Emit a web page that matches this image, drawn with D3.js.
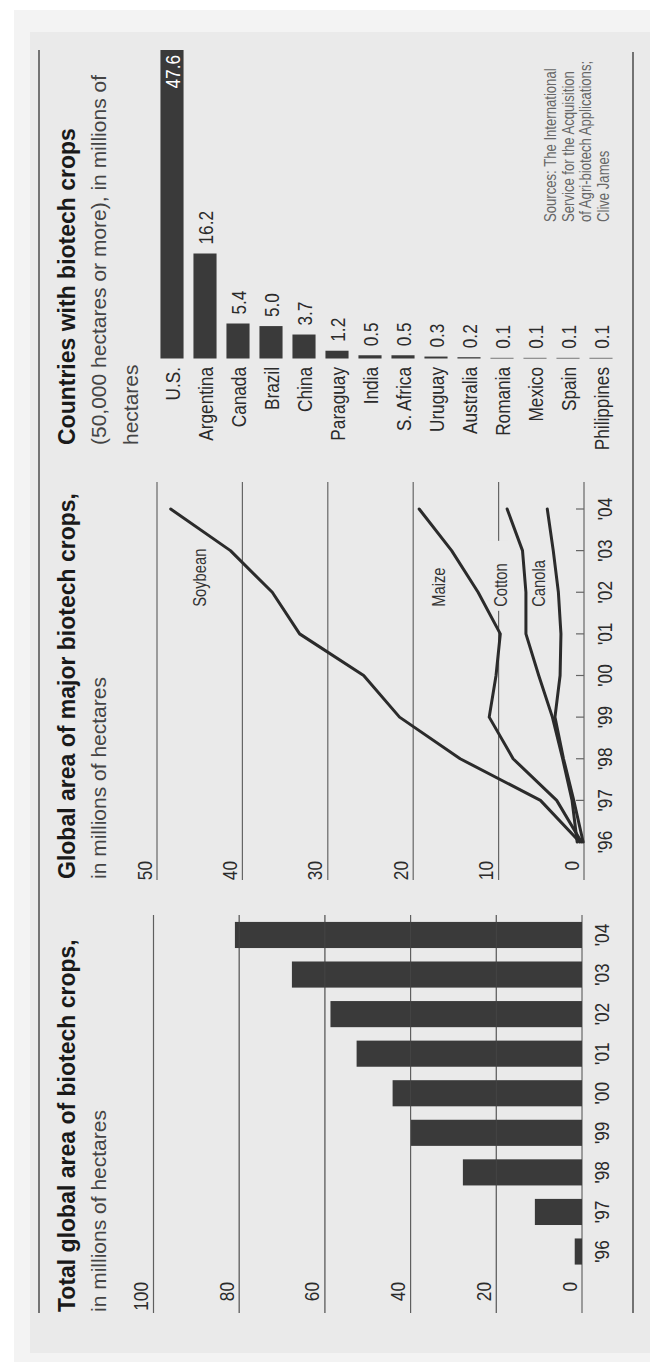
<!DOCTYPE html>
<html>
<head>
<meta charset="utf-8">
<script src="https://cdn.jsdelivr.net/npm/d3@7/dist/d3.min.js"></script>
<style>
  html, body { margin: 0; padding: 0; background: #ffffff; }
  svg { display: block; }
</style>
</head>
<body>
<div id="chart"></div>
<script>
// ---------------- DATA ----------------
const years = ["'96", "'97", "'98", "'99", "'00", "'01", "'02", "'03", "'04"];

// Total global area of biotech crops (millions of hectares)
const totalArea = [1.7, 11.0, 27.8, 39.9, 44.2, 52.6, 58.7, 67.7, 81.0];
const totalTicks = [0, 20, 40, 60, 80, 100];

// Global area of major biotech crops (millions of hectares)
const cropNames = ["Soybean", "Maize", "Cotton", "Canola"];
const soybean = [0.5, 5.1, 14.5, 21.6, 25.8, 33.3, 36.5, 41.4, 48.4];
const maize   = [0.3, 3.2, 8.3, 11.1, 10.3, 9.8, 12.4, 15.5, 19.3];
const cotton  = [0.8, 1.4, 2.5, 3.7, 5.3, 6.8, 6.8, 7.2, 9.0];
const canola  = [0.1, 1.2, 2.4, 3.4, 2.8, 2.7, 3.0, 3.6, 4.3];
const cropTicks = [0, 10, 20, 30, 40, 50];

// Countries with biotech crops (millions of hectares)
const countries = ["U.S.", "Argentina", "Canada", "Brazil", "China", "Paraguay", "India",
  "S. Africa", "Uruguay", "Australia", "Romania", "Mexico", "Spain", "Philippines"];
const countryArea = [47.6, 16.2, 5.4, 5.0, 3.7, 1.2, 0.5, 0.5, 0.3, 0.2, 0.1, 0.1, 0.1, 0.1];

// Texts
const titles = {
  total: "Total global area of biotech crops,",
  crops: "Global area of major biotech crops,",
  countries: "Countries with biotech crops"
};
const subtitleMillions = "in millions of hectares";
const countriesSubtitle = ["(50,000 hectares or more), in millions of", "hectares"];
const sources = ["Sources: The  International", "Service for the Acquisition",
  "of Agri-biotech Applications;", "Clive James"];

// ---------------- SETUP ----------------
const W = 650, H = 1362;
const svg = d3.select("#chart").append("svg").attr("width", W).attr("height", H);

// font detection for condensed face
function hasFont(name) {
  const t = svg.append("text").attr("x", 0).attr("y", -100)
    .style("font-size", "40px").text("Argentina Mmm 0123");
  t.style("font-family", `'${name}', monospace`);
  const w1 = t.node().getComputedTextLength();
  t.style("font-family", "monospace");
  const w2 = t.node().getComputedTextLength();
  t.remove();
  return Math.abs(w1 - w2) > 1;
}
let narrowFamily = "'Liberation Sans', Arial, sans-serif", narrowScale = 0.82;
if (hasFont("Liberation Sans Narrow")) { narrowFamily = "'Liberation Sans Narrow', sans-serif"; narrowScale = 1; }
const wideFamily = "'Liberation Sans', Arial, Helvetica, sans-serif";

// background (page coordinates)
svg.append("rect").attr("x", 14).attr("y", 10).attr("width", W - 14).attr("height", H - 10).attr("fill", "#f3f3f3");
svg.append("rect").attr("x", 30).attr("y", 32).attr("width", W - 30).attr("height", 1321).attr("fill", "#eaeaea");
const BG = "#eaeaea";

// landscape group: rotated -90deg
const g = svg.append("g").attr("transform", `translate(0,${H}) rotate(-90)`);

const INK = "#2b2b2b", GRID = "#666", BAR = "#3a3a3a";

function ntext(parent, x, y, str, size, anchor, fill) {
  return parent.append("text")
    .attr("transform", `translate(${x},${y}) scale(${narrowScale},1)`)
    .attr("text-anchor", anchor || "start")
    .style("font-family", narrowFamily)
    .style("font-size", size + "px")
    .attr("fill", fill || INK)
    .text(str);
}
function wtext(parent, x, y, str, size, weight, fill) {
  return parent.append("text").attr("x", x).attr("y", y)
    .style("font-family", wideFamily).style("font-size", size + "px")
    .style("font-weight", weight).attr("fill", fill).text(str);
}

// frame rules
g.append("line").attr("x1", 49).attr("x2", 1312).attr("y1", 39).attr("y2", 39)
  .attr("stroke", "#555").attr("stroke-width", 1.6);
g.append("line").attr("x1", 49).attr("x2", 1310).attr("y1", 633).attr("y2", 633)
  .attr("stroke", "#555").attr("stroke-width", 1.6);

const TITLE_Y = 75, SUB_Y = 106, TITLE_SIZE = 23, SUB_SIZE = 21;

// ---------------- PANEL 1: total bars ----------------
{
  const p = g.append("g");
  const x0 = 49, x1 = 447;
  const x = d3.scaleBand().domain(years).range([90.7, 446.8]).paddingInner(0.34).paddingOuter(0.17);
  const y = d3.scaleLinear().domain([0, 100]).range([582, 153.5]);

  wtext(p, 50, TITLE_Y, titles.total, TITLE_SIZE, "bold", "#1a1a1a");
  wtext(p, 50, SUB_Y, subtitleMillions, SUB_SIZE, "normal", "#444");

  p.selectAll(".grid").data(totalTicks).join("line")
    .attr("x1", x0).attr("x2", x1).attr("y1", d => y(d)).attr("y2", d => y(d))
    .attr("stroke", GRID).attr("stroke-width", 1.2);
  totalTicks.forEach(t => ntext(p, 80, y(t) - 5.5, String(t), 21, "end"));

  p.selectAll(".bar").data(totalArea).join("rect")
    .attr("x", (d, i) => x(years[i])).attr("width", x.bandwidth())
    .attr("y", d => y(d)).attr("height", d => y(0) - y(d))
    .attr("fill", BAR);
  // faint gridlines showing through bars
  p.selectAll(".grid2").data(totalTicks.filter(t => t > 0)).join("line")
    .attr("x1", x0).attr("x2", x1).attr("y1", d => y(d)).attr("y2", d => y(d))
    .attr("stroke", "#555").attr("stroke-width", 0.8).attr("opacity", 0.5);
  years.forEach(yr => ntext(p, x(yr) + x.bandwidth() / 2, 609, yr, 21, "middle"));
}

// ---------------- PANEL 2: crop lines ----------------
{
  const p = g.append("g");
  const x0 = 482, x1 = 880;
  const x = d3.scalePoint().domain(years).range([520, 853]);
  const y = d3.scaleLinear().domain([0, 50]).range([584, 157]);

  wtext(p, 483, TITLE_Y, titles.crops, TITLE_SIZE, "bold", "#1a1a1a");
  wtext(p, 483, SUB_Y, subtitleMillions, SUB_SIZE, "normal", "#444");

  p.selectAll(".grid").data(cropTicks).join("line")
    .attr("x1", x0).attr("x2", x1).attr("y1", d => y(d)).attr("y2", d => y(d))
    .attr("stroke", GRID).attr("stroke-width", 1.2);
  cropTicks.forEach(t => ntext(p, 501, y(t) - 5.5, String(t), 21, "end"));

  // ticks on x axis
  p.selectAll(".tick").data(years).join("line")
    .attr("x1", d => x(d)).attr("x2", d => x(d)).attr("y1", y(0)).attr("y2", y(0) - 8)
    .attr("stroke", GRID).attr("stroke-width", 1.2);
  years.forEach(yr => ntext(p, x(yr), 612, yr, 21, "middle"));

  // label positions (in data space)
  const labX = x("'01") + 0.65 * x.step();
  const labels = [
    { name: cropNames[0], v: 44.3 },
    { name: cropNames[1], v: 16.3 },
    { name: cropNames[2], v: 9.0 },
    { name: cropNames[3], v: 4.6 }
  ];
  // knock out gridline behind "Cotton"
  p.append("rect").attr("x", labX - 4).attr("width", 70).attr("y", y(10) - 12).attr("height", 22)
    .attr("fill", BG);

  const series = [soybean, maize, cotton, canola];
  const line = d3.line().x((d, i) => x(years[i])).y(d => y(d));
  p.selectAll(".series").data(series).join("path")
    .attr("d", line).attr("fill", "none").attr("stroke", INK)
    .attr("stroke-width", 3).attr("stroke-linejoin", "round").attr("stroke-linecap", "round");

  labels.forEach(l => ntext(p, labX, y(l.v), l.name, 18, "start", "#333"));
}

// ---------------- PANEL 3: countries ----------------
{
  const p = g.append("g");
  const yb = d3.scaleBand().domain(countries).range([155.5, 617.5]).paddingInner(0.3).paddingOuter(0.15);
  const x = d3.scaleLinear().domain([0, 47.6]).range([1003.5, 1312]);
  const fmt = d3.format(".1f");

  wtext(p, 917, TITLE_Y, titles.countries, TITLE_SIZE, "bold", "#1a1a1a");
  countriesSubtitle.forEach((s, i) => wtext(p, 917, SUB_Y + i * 32, s, SUB_SIZE, "normal", "#444"));

  p.selectAll(".bar").data(countryArea).join("rect")
    .attr("x", x(0)).attr("width", d => x(d) - x(0))
    .attr("y", (d, i) => yb(countries[i])).attr("height", yb.bandwidth())
    .attr("fill", BAR);

  countries.forEach((c, i) => {
    const cy = yb(c) + yb.bandwidth() / 2 + 7.5;
    ntext(p, 995, cy, c, 21, "end");
    if (i === 0) ntext(p, x(countryArea[i]) - 5, cy, fmt(countryArea[i]), 21, "end", "#ffffff");
    else ntext(p, x(countryArea[i]) + 9, cy, fmt(countryArea[i]), 21, "start");
  });

  sources.forEach((s, i) => ntext(p, 1140, 556 + i * 17.5, s, 16, "start", "#666"));
}
</script>
</body>
</html>
